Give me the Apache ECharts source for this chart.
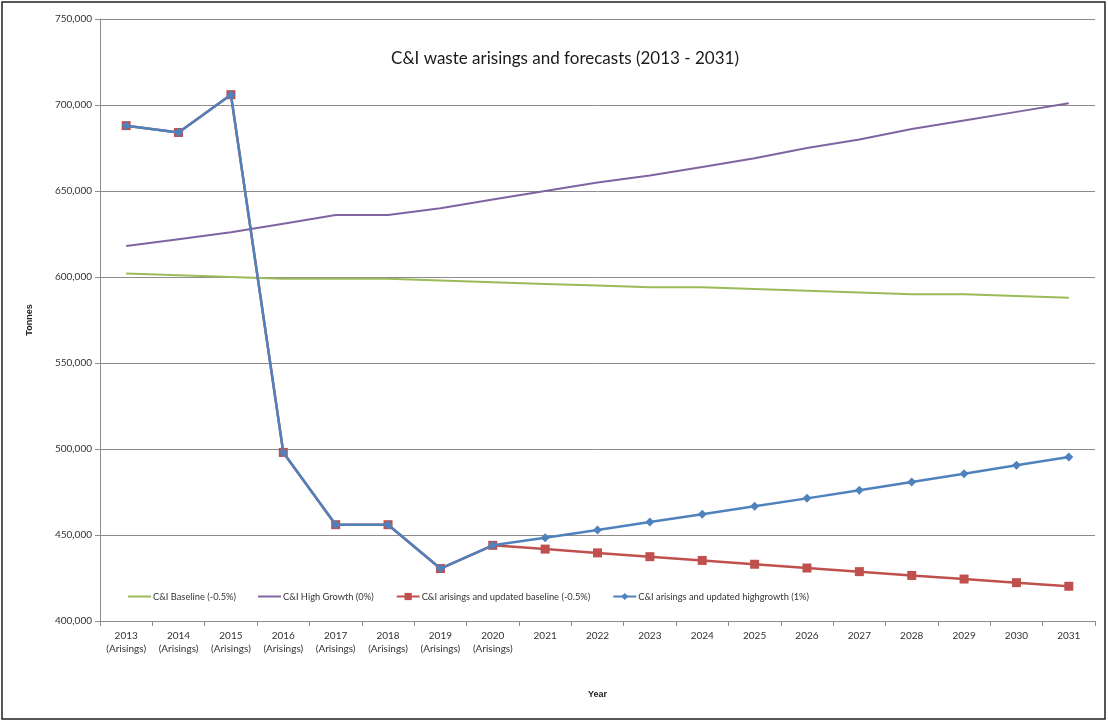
<!DOCTYPE html>
<html>
<head>
<meta charset="utf-8">
<script src="https://cdn.jsdelivr.net/npm/echarts@6/dist/echarts.min.js"></script>
<style>
  html, body { margin: 0; padding: 0; background: #fff; }
  #chart { width: 1108px; height: 722px; }
</style>
</head>
<body>
<div id="chart"></div>
<script>
// Years on the category axis; the first eight are recorded arisings
const years = ['2013','2014','2015','2016','2017','2018','2019','2020','2021','2022',
               '2023','2024','2025','2026','2027','2028','2029','2030','2031'];
const arisingYears = 8;

// Tonnes per year for each scenario
const baseline = [602000, 601000, 600000, 599000, 599000, 599000, 598000, 597000, 596000, 595000,
                  594000, 594000, 593000, 592000, 591000, 590000, 590000, 589000, 588000];
const highGrowth = [618000, 622000, 626000, 631000, 636000, 636000, 640000, 645000, 650000, 655000,
                    659000, 664000, 669000, 675000, 680000, 686000, 691000, 696000, 701000];
const updatedBaseline = [688000, 684000, 706000, 498000, 456000, 456000, 430500, 444000, 441800, 439600,
                         437400, 435200, 433000, 430800, 428700, 426500, 424400, 422300, 420200];
const updatedHighGrowth = [688000, 684000, 706000, 498000, 456000, 456000, 430500, 444000, 448400, 452900,
                           457500, 462000, 466700, 471300, 476000, 480800, 485600, 490500, 495400];

const seriesNames = ['C&I Baseline (-0.5%)', 'C&I High Growth (0%)',
                     'C&I arisings and updated baseline (-0.5%)', 'C&I arisings and updated highgrowth (1%)'];

// Plain line swatch for the series drawn without markers (the two moveTo points keep the bar centred)
const LINE_ICON = 'path://M0,0M0,9M0,3.5H23V5.5H0Z';

const FONT = 'Lato, "Open Sans", sans-serif';
const chart = echarts.init(document.getElementById('chart'));

chart.setOption({
  animation: false,
  backgroundColor: '#fff',
  title: {
    text: 'C&I waste arisings and forecasts (2013 - 2031)',
    left: 560, top: 45, textAlign: 'center',
    textStyle: { fontFamily: FONT, fontSize: 17, fontWeight: 'normal', color: '#1a1a1a' }
  },
  graphic: [{
    type: 'rect', silent: true,
    shape: { x: 2, y: 2, width: 1103, height: 717 },
    style: { fill: 'none', stroke: '#222', lineWidth: 1.5 }
  }],
  legend: {
    left: 128, top: 592, padding: 0,
    itemWidth: 23, itemHeight: 9, itemGap: 22,
    textStyle: { fontFamily: FONT, fontSize: 9.3, color: '#333', padding: [0, 0, 0, -3] },
    data: [
      { name: seriesNames[0], icon: LINE_ICON },
      { name: seriesNames[1], icon: LINE_ICON },
      seriesNames[2],
      seriesNames[3]
    ]
  },
  grid: { left: 100, right: 13, top: 19, bottom: 101, containLabel: false },
  xAxis: {
    type: 'category', data: years, boundaryGap: true,
    name: 'Year', nameLocation: 'middle', nameGap: 69,
    nameTextStyle: { fontFamily: 'Liberation Sans, Arial, sans-serif', fontSize: 9, fontWeight: 'bold', color: '#222' },
    axisLine: { lineStyle: { color: '#8c8c8c', width: 1 } },
    axisTick: { show: true, length: 5, alignWithLabel: false, lineStyle: { color: '#8c8c8c' } },
    axisLabel: {
      interval: 0, margin: 8, lineHeight: 13,
      fontFamily: FONT, fontSize: 10, color: '#333',
      formatter: (v, i) => i < arisingYears ? v + '\n(Arisings)' : v
    },
    splitLine: { show: false }
  },
  yAxis: {
    type: 'value', min: 400000, max: 750000, interval: 50000,
    name: 'Tonnes', nameLocation: 'middle', nameGap: 66, nameRotate: 90,
    nameTextStyle: { fontFamily: 'Liberation Sans, Arial, sans-serif', fontSize: 9, fontWeight: 'bold', color: '#222' },
    axisLine: { show: true, lineStyle: { color: '#8c8c8c', width: 1 } },
    axisTick: { show: true, length: 5, lineStyle: { color: '#8c8c8c' } },
    axisLabel: {
      margin: 8, fontFamily: FONT, fontSize: 10, color: '#333',
      formatter: v => v.toLocaleString('en-GB')
    },
    splitLine: { show: true, lineStyle: { color: '#8c8c8c', width: 1 } }
  },
  series: [
    {
      name: seriesNames[0], type: 'line', data: baseline,
      symbol: 'none', color: '#9BBB59',
      lineStyle: { width: 2, color: '#9BBB59' }, z: 2
    },
    {
      name: seriesNames[1], type: 'line', data: highGrowth,
      symbol: 'none', color: '#8064A2',
      lineStyle: { width: 2, color: '#8064A2' }, z: 2
    },
    {
      name: seriesNames[2], type: 'line', data: updatedBaseline,
      symbol: 'rect', symbolSize: 9, showAllSymbol: true, color: '#C0504D',
      itemStyle: { color: '#C0504D', borderWidth: 0 },
      lineStyle: { width: 2.5, color: '#C0504D' }, z: 3
    },
    {
      name: seriesNames[3], type: 'line', data: updatedHighGrowth,
      symbol: 'diamond', symbolSize: 9, showAllSymbol: true, color: '#4F81BD',
      itemStyle: { color: '#4F81BD', borderWidth: 0 },
      lineStyle: { width: 2.5, color: '#4F81BD' }, z: 4
    }
  ]
});
</script>
</body>
</html>
